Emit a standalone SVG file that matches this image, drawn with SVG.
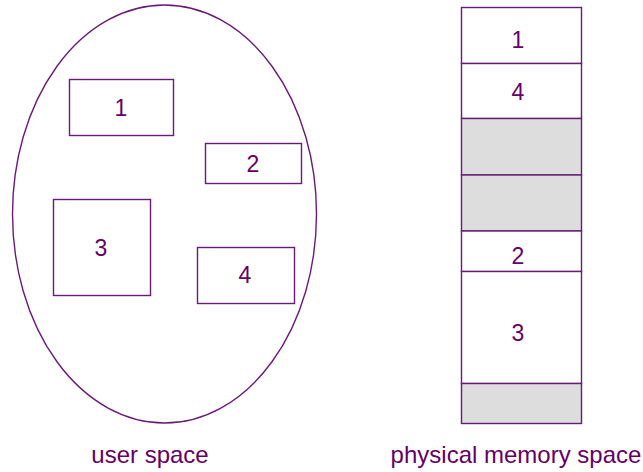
<svg xmlns="http://www.w3.org/2000/svg" width="643" height="472" viewBox="0 0 643 472">
<style>
.s{fill:#fff;stroke:#6a1b78;stroke-width:1.4}
.g{fill:#dddddd;stroke:#6a1b78;stroke-width:1.4}
text{font-family:"Liberation Sans",Arial,sans-serif;font-size:23px;fill:#660066;text-anchor:middle}
.lbl{font-size:24px}
</style>
<rect width="643" height="472" fill="#fff"/>
<g id="user-space">
<ellipse class="s" cx="164.5" cy="214" rx="152" ry="209"/>
</g>
<g id="u1"><rect class="s" x="69.5" y="79.5" width="104" height="56"/><text x="121" y="116">1</text></g>
<g id="u2"><rect class="s" x="205.5" y="143.5" width="96" height="40"/><text x="253" y="172">2</text></g>
<g id="u3"><rect class="s" x="53.5" y="199.5" width="97" height="96"/><text x="101" y="256">3</text></g>
<g id="u4"><rect class="s" x="197.5" y="247.5" width="97" height="56"/><text x="245" y="283">4</text></g>
<g id="memory">
<g id="m1"><rect class="s" x="461.5" y="7.5" width="120" height="56"/><text x="518" y="48">1</text></g>
<g id="m4"><rect class="s" x="461.5" y="63.5" width="120" height="55"/><text x="518" y="100">4</text></g>
<g id="mfree1"><rect class="g" x="461.5" y="118.5" width="120" height="56.5"/></g>
<g id="mfree2"><rect class="g" x="461.5" y="175" width="120" height="56"/></g>
<g id="m2"><rect class="s" x="461.5" y="231" width="120" height="40.5"/><text x="518" y="264">2</text></g>
<g id="m3"><rect class="s" x="461.5" y="271.5" width="120" height="112"/><text x="518" y="341">3</text></g>
<g id="mfree3"><rect class="g" x="461.5" y="383.5" width="120" height="40"/></g>
</g>
<g id="connectors"></g>
<text class="lbl" x="150" y="463">user space</text>
<text class="lbl" x="516" y="463">physical memory space</text>
</svg>
